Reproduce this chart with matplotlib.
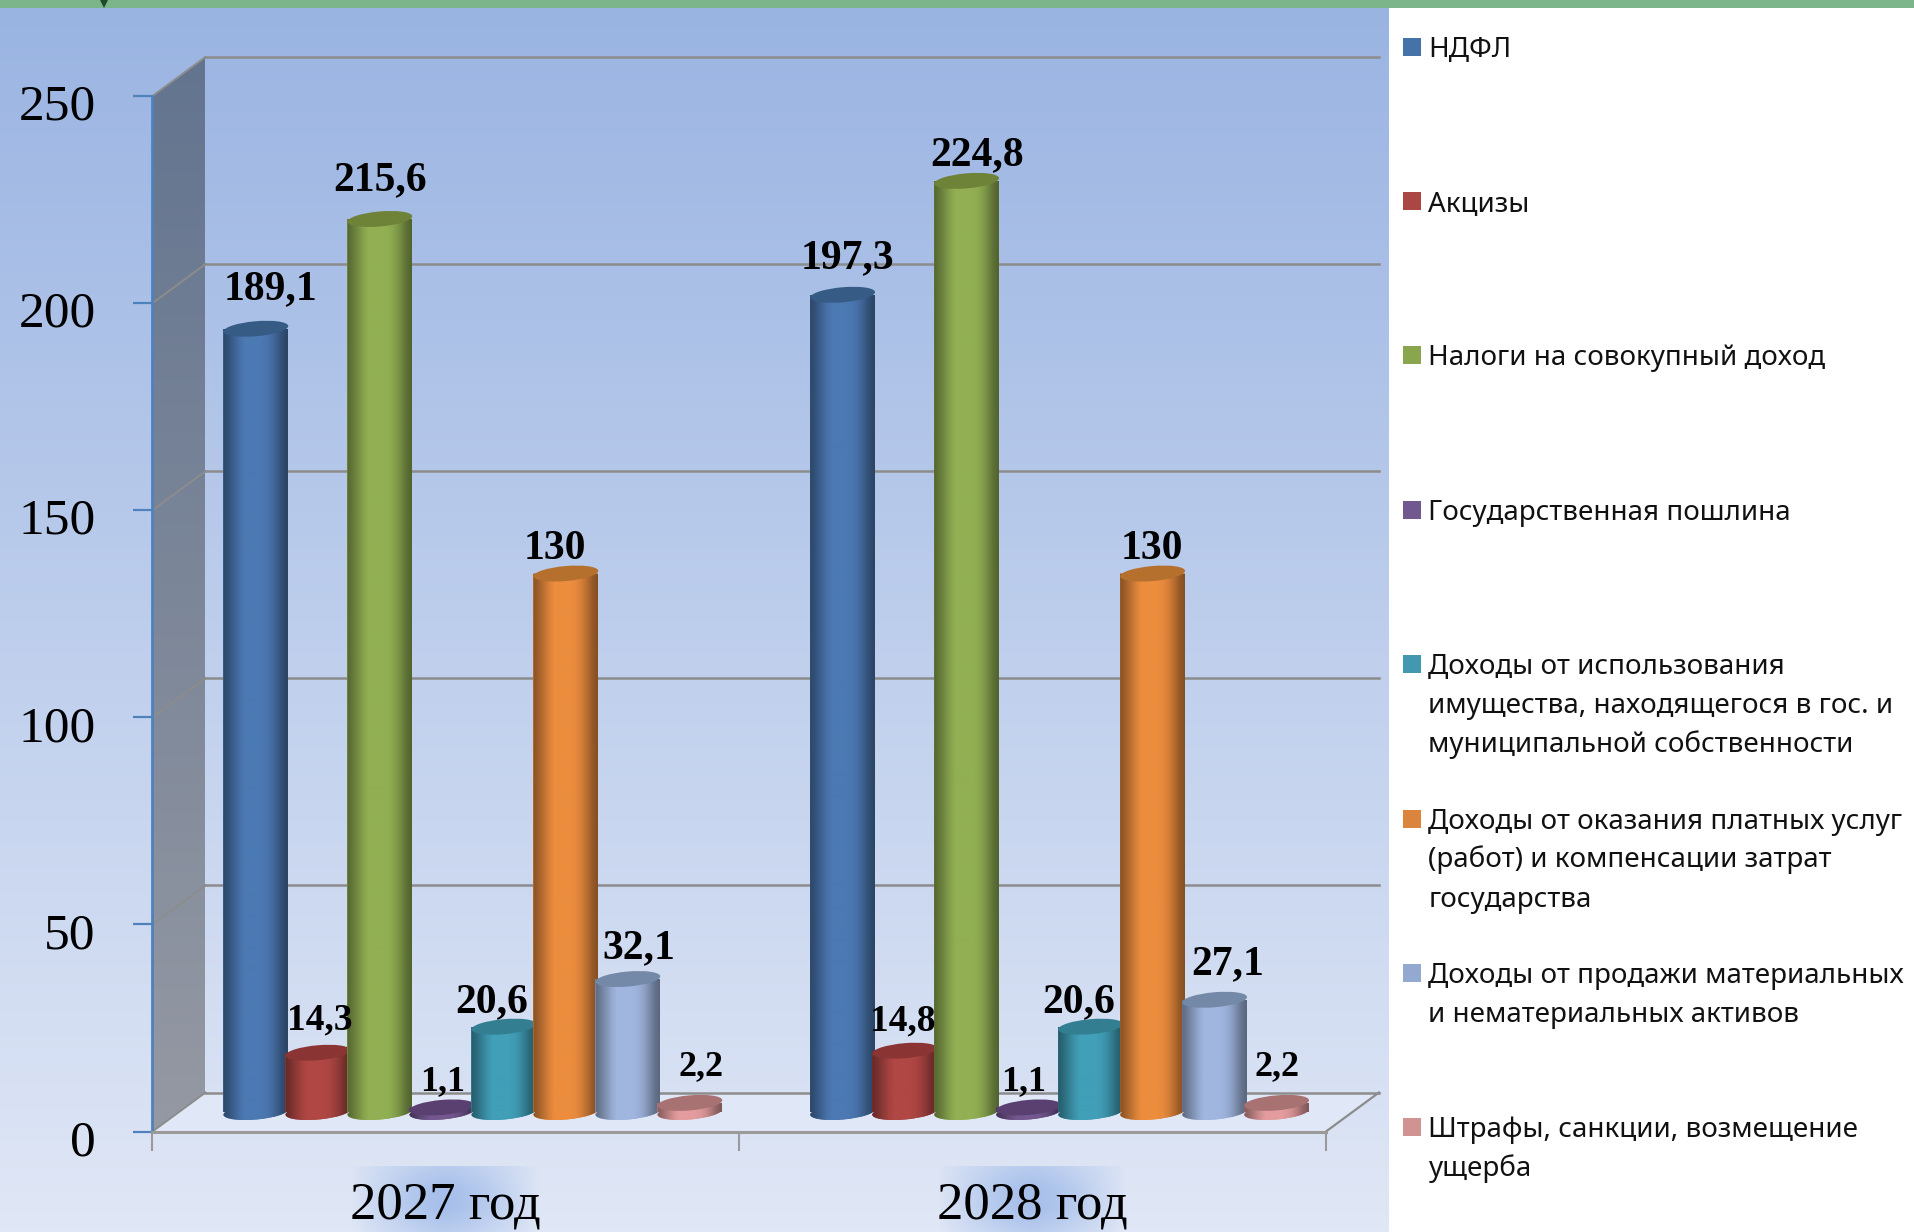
import numpy as np
import matplotlib
matplotlib.use("Agg")
import matplotlib.pyplot as plt
from matplotlib.colors import to_rgb
from matplotlib.patches import Ellipse, Polygon, Rectangle
from matplotlib.path import Path
from matplotlib.transforms import Affine2D, IdentityTransform

# ---------- data ----------
categories = ["2027 год", "2028 год"]
series_names = [
    "НДФЛ",
    "Акцизы",
    "Налоги на совокупный доход",
    "Государственная пошлина",
    "Доходы от использования\nимущества, находящегося в гос. и\nмуниципальной собственности",
    "Доходы от оказания платных услуг\n(работ) и компенсации затрат\nгосударства",
    "Доходы от продажи материальных\nи нематериальных активов",
    "Штрафы, санкции, возмещение\nущерба",
]
values_2027 = [189.1, 14.3, 215.6, 1.1, 20.6, 130, 32.1, 2.2]
values_2028 = [197.3, 14.8, 224.8, 1.1, 20.6, 130, 27.1, 2.2]
labels_2027 = ["189,1", "14,3", "215,6", "1,1", "20,6", "130", "32,1", "2,2"]
labels_2028 = ["197,3", "14,8", "224,8", "1,1", "20,6", "130", "27,1", "2,2"]
y_ticks = [0, 50, 100, 150, 200, 250]

# ---------- style ----------
body_colors = ["#4C79B3", "#B04744", "#92B053", "#74578F", "#419FB8", "#EC8D3E", "#A0B6DF", "#E49C9E"]
cap_colors = ["#365B85", "#8A3533", "#6E8238", "#5A4071", "#347E92", "#B5702E", "#7488A8", "#A87273"]
legend_colors = ["#4672AA", "#AA4643", "#89A54E", "#71588F", "#4198AF", "#DB843D", "#93A9CF", "#D19392"]
label_dx = [[15, 2, 0, 1, -12, -11, 11, 11], [5, -2, 10, -5, -12, -1, 13, 0]]
label_dy = [[30, 23, 29, 17, 14, 15, 21, 28], [27, 20, 16, 17, 14, 15, 26, 28]]
label_size = [[30, 27, 30, 26, 30, 30, 30, 26], [30, 27, 30, 26, 30, 30, 30, 26]]
W, H = 1915, 1232
plt.rcParams["font.family"] = ["Liberation Serif", "DejaVu Serif"]

fig = plt.figure(figsize=(W / 100, H / 100), dpi=100, facecolor="white")

# ---------- background (pixel coordinates) ----------
bg = fig.add_axes([0, 0, 1, 1])
bg.axis("off")
top_c, bot_c = np.array(to_rgb("#9AB4E2")), np.array(to_rgb("#E0E7F6"))
t = np.linspace(0, 1, 256)[:, None, None]
bg.imshow(top_c * (1 - t) + bot_c * t, extent=(0, 1389, H, 8), aspect="auto", zorder=0)
bg.add_patch(Rectangle((0, 0), W, 8, fc="#7DB58B", ec="none", zorder=1))
bg.add_patch(Polygon([(100, 0), (108, 0), (104, 8)], fc="#1F4A2A", ec="none", zorder=2))
for cx in (445.5, 1032.5):
    xx, yy = np.meshgrid(np.linspace(-1, 1, 120), np.linspace(-1, 1, 60))
    a = np.clip(1 - np.abs(xx) ** 1.4, 0, 1) * np.clip(1.15 - 0.5 * np.abs(yy), 0, 1)
    rgba = np.zeros((60, 120, 4))
    rgba[..., :3] = to_rgb("#A3BDEA")
    rgba[..., 3] = a * 0.95
    bg.imshow(rgba, extent=(cx - 94, cx + 94, H, 1166), aspect="auto", zorder=1)
bg.set_xlim(0, W)
bg.set_ylim(H, 0)

# ---------- main axes ----------
LEFT, RIGHT, TOP, BOTTOM = 152.5, 1326, 96, 1131.5
ax = fig.add_axes([LEFT / W, 1 - BOTTOM / H, (RIGHT - LEFT) / W, (BOTTOM - TOP) / H])
ax.patch.set_alpha(0)
ax.set_xlim(0, len(categories))
ax.set_ylim(0, 250)

back = ax.transData + Affine2D().translate(53, 39)
mid = ax.transData + Affine2D().translate(27, 19.5)

# walls and floor
def px(tr, x, y):
    return tr.transform((x, y))

wall = np.array([px(ax.transData, 0, 250), px(back, 0, 250), px(back, 0, 0), px(ax.transData, 0, 0)])
wall_top, wall_bot = np.array(to_rgb("#63748F")), np.array(to_rgb("#9599A3"))
im = ax.imshow(wall_top * (1 - t) + wall_bot * t, extent=(0, 53 / 586.75, -1, 260), aspect="auto", zorder=1)
wall_patch = Polygon(wall, closed=True, transform=IdentityTransform(), fc="none", ec="none", clip_on=False)
ax.add_patch(wall_patch)
im.set_clip_path(wall_patch)
im.set_clip_box(fig.bbox)

floor = np.array([px(ax.transData, 0, 0), px(back, 0, 0), px(back, 2, 0), px(ax.transData, 2, 0)])
ax.add_patch(Polygon(floor, closed=True, transform=IdentityTransform(), fc="#E0E7F6", ec="none", zorder=1, clip_on=False))

for v in y_ticks:
    ax.plot([0, 2], [v, v], color="#8C8C8C", lw=1.8, transform=back, zorder=2, clip_on=False)
    a, b = px(ax.transData, 0, v), px(back, 0, v)
    ax.plot([a[0], b[0]], [a[1], b[1]], color="#8C8C8C", lw=1.4, transform=IdentityTransform(), zorder=2, clip_on=False)
a, b = px(ax.transData, 2, 0), px(back, 2, 0)
ax.plot([a[0], b[0]], [a[1], b[1]], color="#8C8C8C", lw=1.6, transform=IdentityTransform(), zorder=2, clip_on=False)

# cylinders
n = len(series_names)
step = 62 / 586.75
width = 65 / 586.75
shade = np.array([0.58, 0.68, 0.80, 0.92, 1.0, 1.0, 1.0, 1.0, 0.97, 0.90, 0.78, 0.64, 0.56])
xs_img = np.interp(np.linspace(0, 12, 130), np.arange(13), shade)

for c, vals in enumerate([values_2027, values_2028]):
    for i, v in enumerate(vals):
        x = c + 0.5 + (i - (n - 1) / 2) * step
        z = 10 + i * 2
        ax.bar([x], [v], width=width, color=body_colors[i], transform=mid, zorder=z, clip_on=False)
        cx0, cy0 = px(mid, x, 0)
        cx1, cy1 = px(mid, x, v)
        base = Ellipse((cx0, cy0), 65, 15, angle=5, transform=IdentityTransform(),
                       fc=body_colors[i], ec="none", zorder=z, clip_on=False)
        ax.add_patch(base)
        rgb = np.array(to_rgb(body_colors[i]))[None, None, :] * xs_img[None, :, None]
        img = ax.imshow(rgb, extent=(x - width / 2, x + width / 2, -4, v), aspect="auto",
                        transform=mid, zorder=z + 0.5)
        rect = Path([(cx0 - 32.5, cy0), (cx0 + 32.5, cy0), (cx1 + 32.5, cy1), (cx1 - 32.5, cy1), (cx0 - 32.5, cy0)])
        ell = base.get_path().transformed(base.get_patch_transform())
        img.set_clip_path(Path.make_compound_path(rect, ell), IdentityTransform())
        img.set_clip_box(fig.bbox)
        ax.add_patch(Ellipse((cx1, cy1), 65, 15, angle=5, transform=IdentityTransform(),
                             fc=cap_colors[i], ec="none", zorder=z + 1, clip_on=False))

# data labels
for c, labs in enumerate([labels_2027, labels_2028]):
    vals = [values_2027, values_2028][c]
    for i, lab in enumerate(labs):
        x = c + 0.5 + (i - (n - 1) / 2) * step
        cx, cy = px(mid, x, vals[i])
        ax.text(cx + label_dx[c][i], cy + label_dy[c][i], lab, transform=IdentityTransform(),
                ha="center", va="baseline", fontsize=label_size[c][i], fontweight="bold",
                color="#000000", zorder=40, clip_on=False)

# axes furniture
for s in ("top", "right"):
    ax.spines[s].set_visible(False)
ax.spines["left"].set_color("#4F81BD")
ax.spines["left"].set_linewidth(2.0)
ax.spines["bottom"].set_color("#9A9A9A")
ax.spines["bottom"].set_linewidth(2.2)
ax.spines["left"].set_zorder(5)
ax.spines["bottom"].set_zorder(5)
ax.set_yticks(y_ticks)
ax.set_yticklabels([str(v) for v in y_ticks])
ax.tick_params(axis="y", length=14, width=1.6, color="#4F81BD", labelsize=37, pad=27, labelcolor="#000000")
for lab in ax.get_yticklabels():
    lab.set_transform(lab.get_transform() + Affine2D().translate(0, -6))
ax.set_xticks([0, 1, 2])
ax.set_xticklabels([])
ax.set_xticks([0.5, 1.5], minor=True)
ax.set_xticklabels(categories, minor=True)
ax.tick_params(axis="x", which="major", length=14, width=1.5, color="#9A9A9A")
ax.tick_params(axis="x", which="minor", length=0, labelsize=38, pad=36, labelcolor="#000000")
ax.set_xlim(0, len(categories))
ax.set_ylim(0, 250)

# legend
LEG_Y0, LEG_STEP, LINE = 46.5, 154.4, 39
for i, name in enumerate(series_names):
    yc = LEG_Y0 + i * LEG_STEP
    bg.add_patch(Rectangle((1403, yc - 9), 18, 18, fc=legend_colors[i], ec="none", zorder=3))
    for k, line in enumerate(name.split("\n")):
        bg.text(1428.5, yc + 10 + k * LINE, line, fontsize=20, family="Noto Sans",
                color="#111111", ha="left", va="baseline", zorder=3)

fig.savefig("out.png", dpi=100)
